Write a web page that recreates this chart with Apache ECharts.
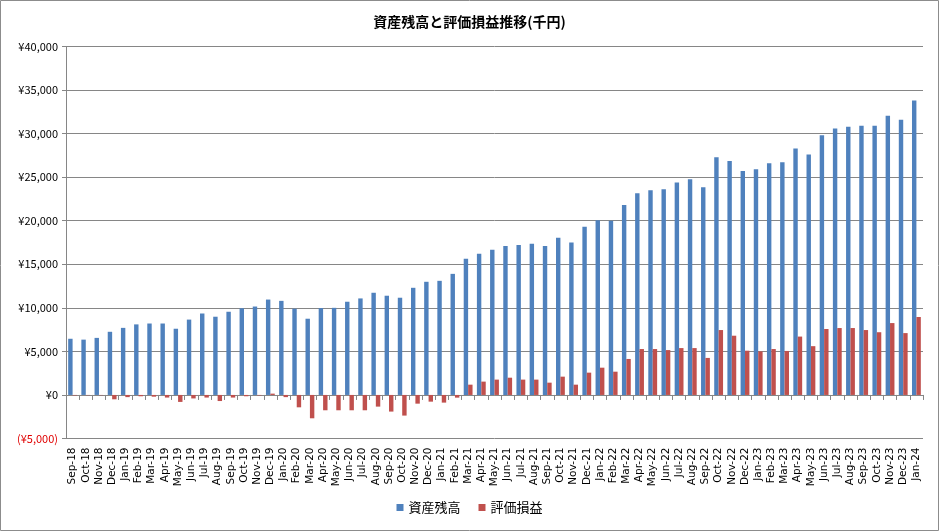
<!DOCTYPE html>
<html>
<head>
<meta charset="utf-8">
<script src="https://cdn.jsdelivr.net/npm/echarts@6/dist/echarts.min.js"></script>
<style>
html,body{margin:0;padding:0;background:#fff;}
#chart{width:939px;height:531px;}
</style>
</head>
<body>
<div id="chart"></div>
<script>
const titleText = '資産残高と評価損益推移(千円)';
const seriesNames = ['資産残高', '評価損益'];
const categories = [
  'Sep-18','Oct-18','Nov-18','Dec-18',
  'Jan-19','Feb-19','Mar-19','Apr-19','May-19','Jun-19','Jul-19','Aug-19','Sep-19','Oct-19','Nov-19','Dec-19',
  'Jan-20','Feb-20','Mar-20','Apr-20','May-20','Jun-20','Jul-20','Aug-20','Sep-20','Oct-20','Nov-20','Dec-20',
  'Jan-21','Feb-21','Mar-21','Apr-21','May-21','Jun-21','Jul-21','Aug-21','Sep-21','Oct-21','Nov-21','Dec-21',
  'Jan-22','Feb-22','Mar-22','Apr-22','May-22','Jun-22','Jul-22','Aug-22','Sep-22','Oct-22','Nov-22','Dec-22',
  'Jan-23','Feb-23','Mar-23','Apr-23','May-23','Jun-23','Jul-23','Aug-23','Sep-23','Oct-23','Nov-23','Dec-23',
  'Jan-24'
];
const assetBalance = [
  6450, 6350, 6550, 7250,
  7700, 8100, 8200, 8200, 7600, 8650, 9350, 8980, 9550, 9950, 10150, 10950,
  10800, 9900, 8750, 9970, 10000, 10700, 11080, 11730, 11390, 11160, 12300, 12990,
  13100, 13900, 15630, 16200, 16660, 17100, 17200, 17350, 17100, 18040, 17500, 19300,
  20050, 20000, 21800, 23150, 23500, 23600, 24400, 24750, 23850, 27300, 26850, 25700,
  25900, 26600, 26700, 28300, 27600, 29800, 30600, 30800, 30900, 30900, 32050, 31600,
  33800
];
const unrealizedPL = [
  -50, -30, -30, -500,
  -250, -150, -200, -300, -800, -400, -300, -700, -300, -150, -50, 150,
  -250, -1420, -2680, -1760, -1760, -1760, -1760, -1340, -1910, -2370, -1000, -770,
  -880, -310, 1180, 1530, 1760, 1980, 1760, 1760, 1410, 2100, 1180, 2560,
  3130, 2670, 4130, 5270, 5270, 5150, 5380, 5380, 4250, 7450, 6800, 5080,
  5000, 5270, 5050, 6700, 5600, 7570, 7680, 7680, 7450, 7200, 8250, 7100,
  8950
];
const yMin = -5000, yMax = 40000, yStep = 5000;

const chart = echarts.init(document.getElementById('chart'));
const font = '"Noto Sans CJK JP", "Liberation Sans", sans-serif';
function fmtYen(v) {
  const s = '¥' + Math.abs(v).toLocaleString('en-US');
  return v < 0 ? '{neg|(' + s + ')}' : s;
}
chart.setOption({
  animation: false,
  textStyle: { fontFamily: font },
  graphic: [{
    type: 'rect', shape: { x: 0.5, y: 0.5, width: 938, height: 530 },
    style: { fill: 'none', stroke: '#8c8c8c', lineWidth: 1 }, silent: true
  }],
  title: {
    text: titleText, left: 'center', top: 10,
    textStyle: { fontFamily: font, fontSize: 14, fontWeight: 'bold', color: '#000' }
  },
  legend: {
    bottom: 12, left: 'center', itemWidth: 7, itemHeight: 7, itemGap: 18,
    icon: 'rect',
    textStyle: { fontFamily: font, fontSize: 13, color: '#000' },
    data: seriesNames
  },
  grid: { left: 66, right: 16, top: 46.5, bottom: 92.5, containLabel: false },
  xAxis: {
    type: 'category', data: categories,
    axisLine: { onZero: true, lineStyle: { color: '#868686', width: 1 } },
    axisTick: { show: true, interval: 0, length: 5, lineStyle: { color: '#868686' } },
    axisLabel: { interval: 0, rotate: 90, margin: 9, fontSize: 10.5, color: '#000', fontFamily: '"DejaVu Sans", sans-serif' }
  },
  yAxis: {
    type: 'value', min: yMin, max: yMax, interval: yStep,
    axisLine: { show: true, lineStyle: { color: '#868686' } },
    axisTick: { show: true, length: 4, lineStyle: { color: '#868686' } },
    splitLine: { show: true, lineStyle: { color: '#868686', width: 1 } },
    axisLabel: {
      formatter: fmtYen, fontSize: 11, color: '#000', margin: 8, fontFamily: font,
      rich: { neg: { color: '#e00000', fontSize: 11, fontFamily: font } }
    }
  },
  series: [
    {
      name: seriesNames[0], type: 'bar', data: assetBalance,
      itemStyle: { color: '#4F81BD' }, barGap: '0%', barCategoryGap: '33%'
    },
    {
      name: seriesNames[1], type: 'bar', data: unrealizedPL,
      itemStyle: { color: '#C0504D' }, barGap: '0%', barCategoryGap: '33%'
    }
  ]
});
</script>
</body>
</html>
